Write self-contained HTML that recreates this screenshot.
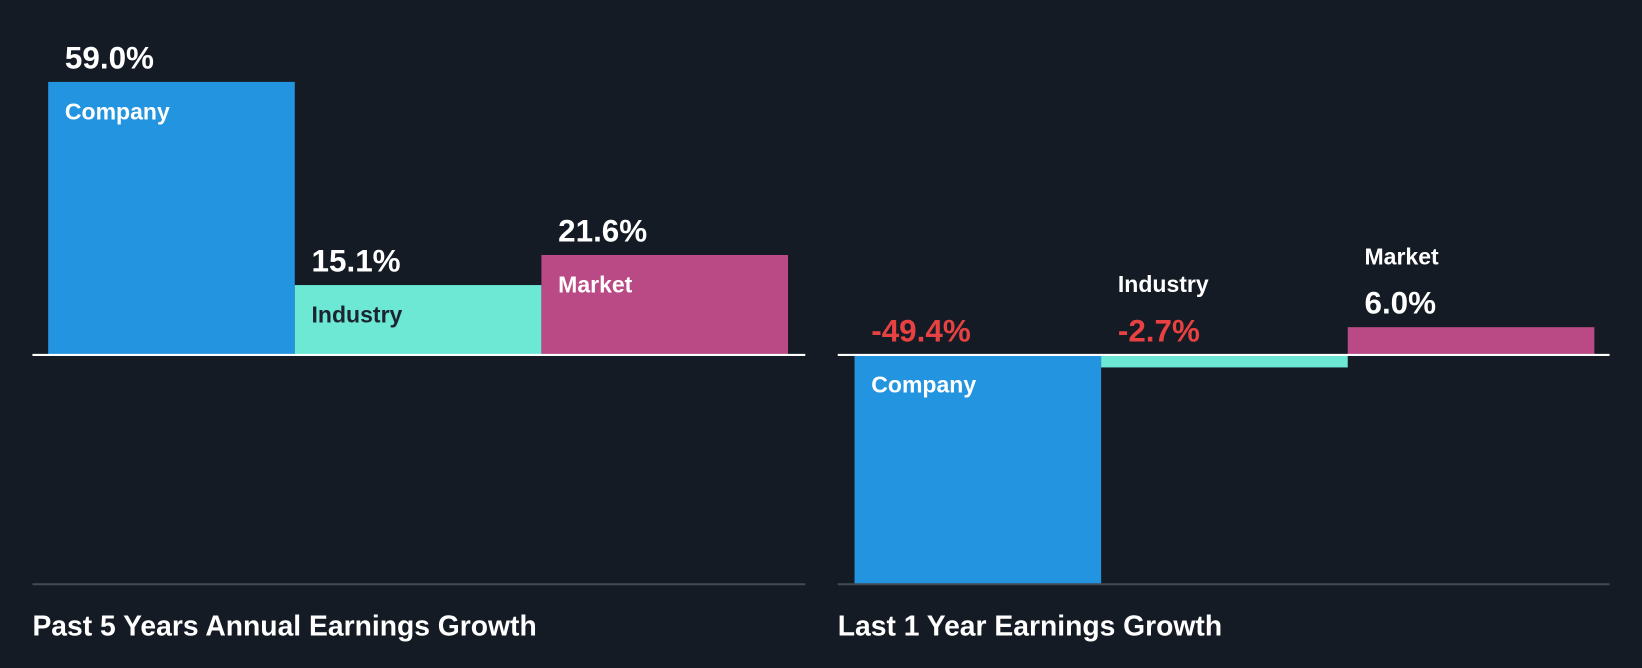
<!DOCTYPE html>
<html><head><meta charset="utf-8"><style>
html,body{margin:0;padding:0;background:#151b24;}
svg{display:block;font-family:"Liberation Sans",Arial,sans-serif;font-weight:bold;}
</style></head><body>
<svg id="chart" width="1642" height="668" viewBox="0 0 1568 638" preserveAspectRatio="none" xmlns="http://www.w3.org/2000/svg">
<rect x="0" y="0" width="1568" height="638" fill="#151b24"/>
</svg>
<script>
const categories = ["Company", "Industry", "Market"];
const past5Values = [59.0, 15.1, 21.6];
const last1Values = [-49.4, -2.7, 6.0];
const panelTitles = ["Past 5 Years Annual Earnings Growth", "Last 1 Year Earnings Growth"];
const colors = ["#2394e0", "#6de8d4", "#b94a85"];
const NS = "http://www.w3.org/2000/svg";
const svg = document.getElementById("chart");
const baseY = 339, pxPer = 4.42;
function y(v){ return baseY - v*pxPer; }
function mk(tag, attrs, parent){ const e=document.createElementNS(NS,tag); for(const k in attrs) e.setAttribute(k,attrs[k]); (parent||svg).appendChild(e); return e; }
function fmt(v){ return v.toFixed(1)+"%"; }
function drawPanel(values, x0, axisX0, axisX1, title, idx){
  const g = mk("g",{});
  
  
  const bw = 235.5;
  values.forEach((v,i)=>{
    const bx = x0 + i*bw;
    const top = Math.min(y(v), baseY), h = Math.abs(y(v)-baseY);
    const r = mk("rect",{x:bx,y:top,width:bw,height:h,fill:colors[i]},g);
    
    
    const valTop = v>=0 ? top : baseY;
    const big = h > 60;
    const vt = mk("text",{x:bx+16,y:valTop-13,"font-size":30,fill:v<0?"#e84142":"#ffffff"},g);
    vt.textContent = fmt(v);
    
    
    let ny, nc = "#ffffff";
    if (big){ ny = (v>=0 ? top : baseY) + 36; if(i===1) nc="#1b2430"; }
    else { ny = valTop - 13 - 47; }
    const nt = mk("text",{x:bx+16,y:ny,"font-size":22,fill:nc},g);
    nt.textContent = categories[i];
    
    
  });
  const ax = mk("line",{x1:axisX0,x2:axisX1,y1:baseY,y2:baseY,stroke:"#ffffff","stroke-width":2},g);
  
  
  const bl = mk("line",{x1:axisX0,x2:axisX1,y1:558,y2:558,stroke:"#444a53","stroke-width":2},g);
  
  
  const t = mk("text",{x:axisX0,y:607,"font-size":27,fill:"#ffffff"},g);
  t.textContent = title;
  
  
}
drawPanel(past5Values, 46, 31, 769, panelTitles[0], 1);
drawPanel(last1Values, 816, 800, 1537, panelTitles[1], 2);
</script>
</body></html>
